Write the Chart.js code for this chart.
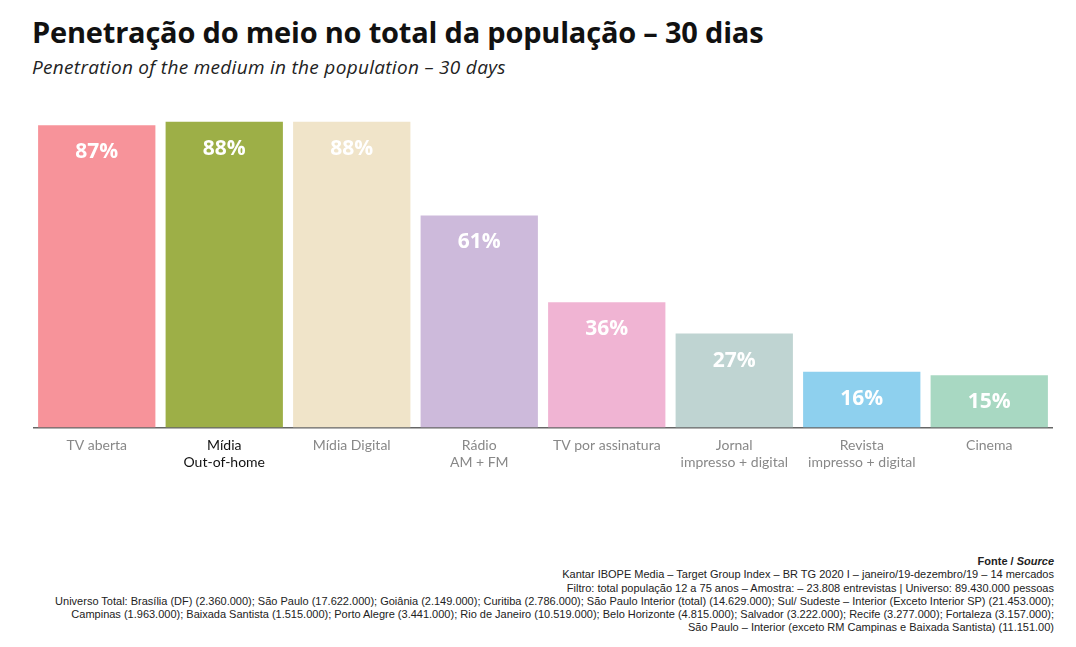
<!DOCTYPE html>
<html>
<head>
<meta charset="utf-8">
<script src="https://cdn.jsdelivr.net/npm/chart.js@4"></script>
<style>
  body { margin: 0; width: 1076px; height: 647px; background: #fff; font-family: Lato, "Open Sans", sans-serif; position: relative; overflow: hidden; }
  h1 { position: absolute; left: 32px; top: 12px; margin: 0; font-family: "Open Sans", sans-serif; font-size: 29px; font-weight: bold; color: #111; letter-spacing: -0.2px; }
  h2 { position: absolute; left: 32px; top: 54px; margin: 0; font-family: "Open Sans", sans-serif; font-size: 19px; font-style: italic; font-weight: normal; color: #222; letter-spacing: 0.3px; }
  #wrap { position: absolute; left: 33px; top: 80px; width: 1020px; height: 393px; }
  #foot { position: absolute; right: 22px; top: 555px; text-align: right; font-family: "Liberation Sans Narrow", "Liberation Sans", sans-serif; font-size: 11px; line-height: 13.3px; color: #222; }
</style>
</head>
<body>
<h1>Penetração do meio no total da população – 30 dias</h1>
<h2>Penetration of the medium in the population – 30 days</h2>
<div id="wrap"><canvas id="grafico"></canvas></div>
<div id="foot">
<b>Fonte / <i>Source</i></b><br>
Kantar IBOPE Media – Target Group Index – BR TG 2020 I – janeiro/19-dezembro/19 – 14 mercados<br>
Filtro: total população 12 a 75 anos – Amostra: – 23.808 entrevistas | Universo: 89.430.000 pessoas<br>
Universo Total: Brasília (DF) (2.360.000); São Paulo (17.622.000); Goiânia (2.149.000); Curitiba (2.786.000); São Paulo Interior (total) (14.629.000); Sul/ Sudeste – Interior (Exceto Interior SP) (21.453.000);<br>
Campinas (1.963.000); Baixada Santista (1.515.000); Porto Alegre (3.441.000); Rio de Janeiro (10.519.000); Belo Horizonte (4.815.000); Salvador (3.222.000); Recife (3.277.000); Fortaleza (3.157.000);<br>
São Paulo – Interior (exceto RM Campinas e Baixada Santista) (11.151.00)
</div>
<script>
const categorias = [['TV aberta'], ['Mídia', 'Out-of-home'], ['Mídia Digital'], ['Rádio', 'AM + FM'],
    ['TV por assinatura'], ['Jornal', 'impresso + digital'], ['Revista', 'impresso + digital'], ['Cinema']];
const valores = [87, 88, 88, 61, 36, 27, 16, 15];
const cores = ['#f7939a', '#9daf47', '#f0e4c9', '#cdbadb', '#f0b4d3', '#bfd4d2', '#8ed0ee', '#a8d8c2'];
const coresRotulo = ['#888', '#111', '#888', '#888', '#888', '#888', '#888', '#888'];

const rotulos = {
    id: 'rotulos',
    afterDatasetsDraw(chart) {
        const ctx = chart.ctx;
        chart.getDatasetMeta(0).data.forEach((bar, i) => {
            ctx.save();
            ctx.fillStyle = '#fff';
            ctx.font = 'bold 21px "Open Sans", sans-serif';
            ctx.textAlign = 'center';
            ctx.textBaseline = 'middle';
            ctx.fillText(valores[i] + '%', bar.x, bar.y + 27);
            ctx.restore();
        });
    }
};

new Chart(document.getElementById('grafico'), {
    type: 'bar',
    data: {
        labels: categorias,
        datasets: [{ data: valores, backgroundColor: cores, barPercentage: 0.92, categoryPercentage: 1 }]
    },
    options: {
        responsive: true,
        maintainAspectRatio: false,
        animation: false,
        layout: { padding: 0 },
        plugins: { legend: { display: false }, tooltip: { enabled: false } },
        scales: {
            y: { display: false, min: 0, max: 100 },
            x: {
                grid: { display: false },
                border: { color: '#666', width: 1.5 },
                ticks: { color: coresRotulo, font: { size: 14, family: 'Lato, "Open Sans", sans-serif' }, padding: 2 }
            }
        }
    },
    plugins: [rotulos]
});
</script>
</body>
</html>
